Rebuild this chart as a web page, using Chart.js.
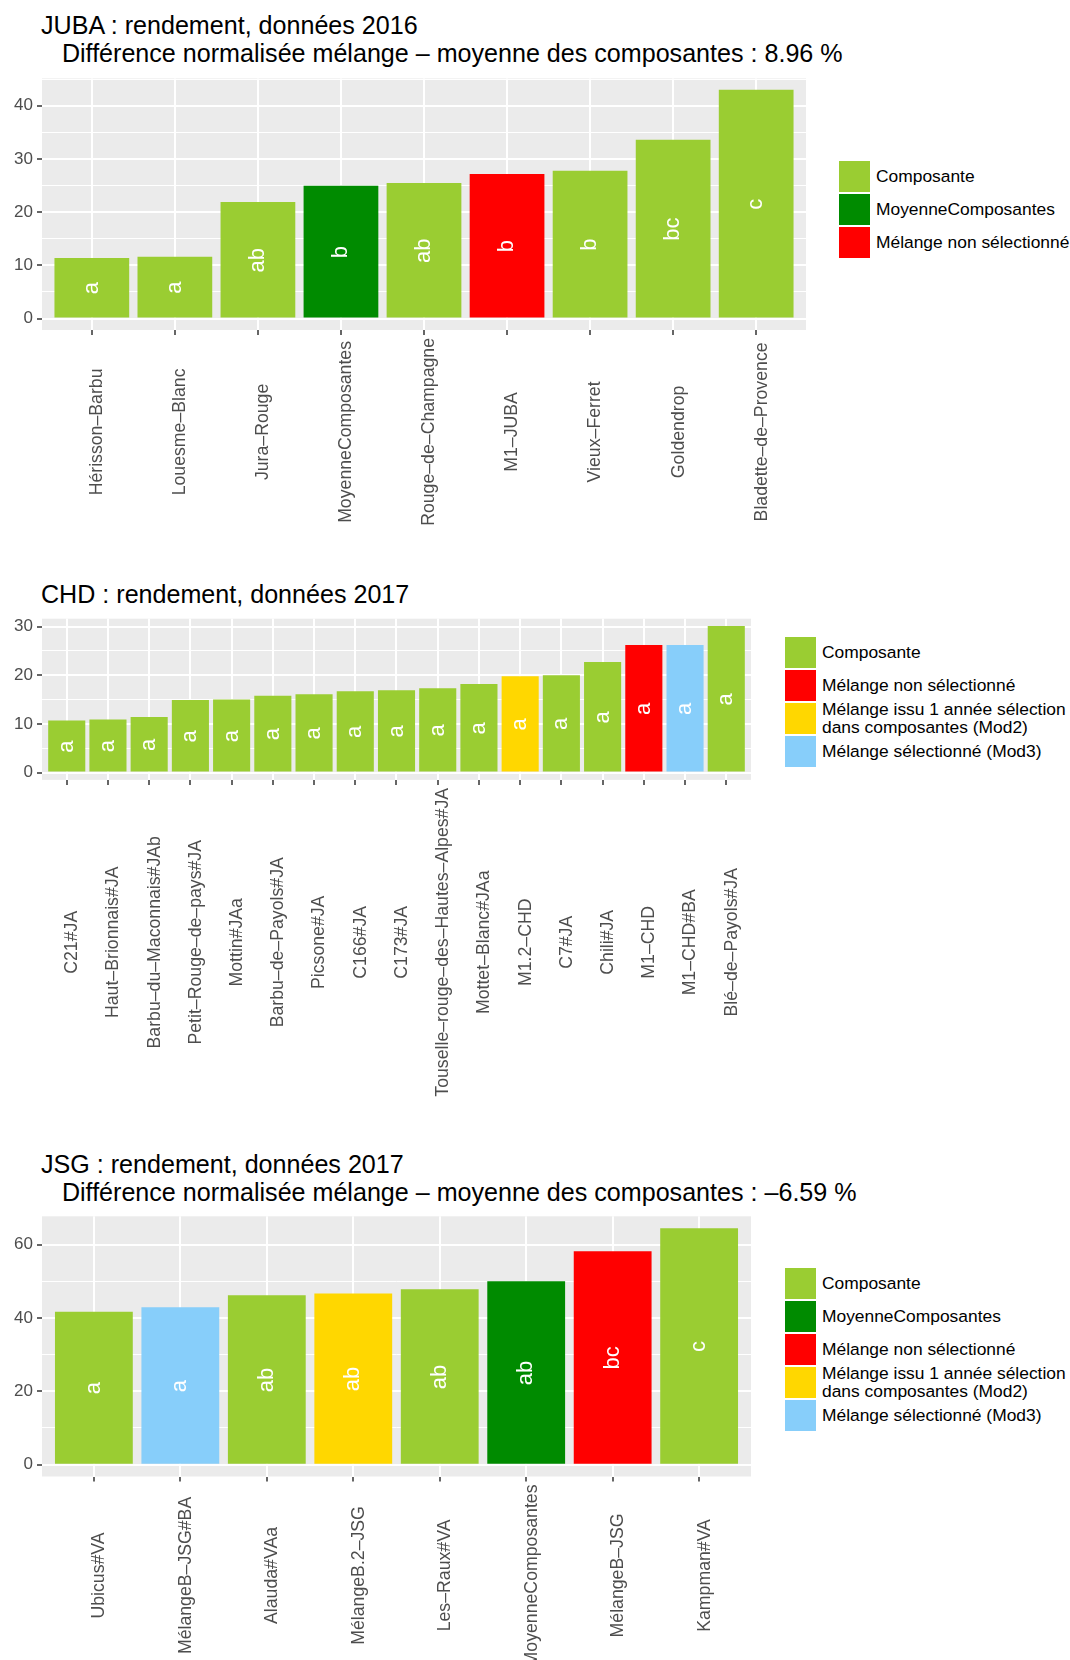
<!DOCTYPE html>
<html>
<head>
<meta charset="utf-8">
<script src="https://cdn.jsdelivr.net/npm/chart.js@4.4.1/dist/chart.umd.min.js"></script>
<style>
  body { margin: 0; background: #fff; width: 1070px; height: 1660px; position: relative; overflow: hidden;
         font-family: "Liberation Sans", Arial, sans-serif; }
  .boite { position: absolute; left: 0; }
  .titre { position: absolute; left: 41px; font-size: 25.1px; line-height: 28px; white-space: pre; color: #000; }
  .legende { position: absolute; font-size: 17.4px; color: #000; width: 300px; }
  .legende .ligne { display: flex; align-items: center; height: 31px; margin-bottom: 2px; }
  .legende .cle { width: 31px; height: 31px; margin-right: 6px; flex: none; }
  .legende .txt { line-height: 17.5px; white-space: pre; }
</style>
</head>
<body>

<div class="titre" style="top:11px">JUBA : rendement, données 2016
   Différence normalisée mélange – moyenne des composantes : 8.96 %</div>
<div class="boite" style="top:0px"><canvas id="juba" width="830" height="540"></canvas></div>
<div class="legende" id="leg_juba" style="left:839px; top:161px"></div>

<div class="titre" style="top:579.5px">CHD : rendement, données 2017</div>
<div class="boite" style="top:560px"><canvas id="chd" width="770" height="540"></canvas></div>
<div class="legende" id="leg_chd" style="left:785px; top:637px"></div>

<div class="titre" style="top:1149.5px">JSG : rendement, données 2017
   Différence normalisée mélange – moyenne des composantes : –6.59 %</div>
<div class="boite" style="top:1130px"><canvas id="jsg" width="770" height="530"></canvas></div>
<div class="legende" id="leg_jsg" style="left:785px; top:1268px"></div>

<script>
// groupes (legende)
const COMP = 'Composante'
const MOY = 'MoyenneComposantes'
const NONSEL = 'Mélange non sélectionné'
const MOD2 = 'Mélange issu 1 année sélection\ndans composantes (Mod2)'
const MOD3 = 'Mélange sélectionné (Mod3)'

const couleurs = {}
couleurs[COMP] = '#9ACD32'
couleurs[MOY] = '#008B00'
couleurs[NONSEL] = '#FF0000'
couleurs[MOD2] = '#FFD700'
couleurs[MOD3] = '#87CEFA'

// JUBA 2016
const jubaNoms = ['Hérisson–Barbu', 'Louesme–Blanc', 'Jura–Rouge', 'MoyenneComposantes', 'Rouge–de–Champagne',
                  'M1–JUBA', 'Vieux–Ferret', 'Goldendrop', 'Bladette–de–Provence']
const jubaRendement = [11.4, 11.6, 21.9, 24.95, 25.5, 27.2, 27.8, 33.6, 43.0]
const jubaGroupes = [COMP, COMP, COMP, MOY, COMP, NONSEL, COMP, COMP, COMP]
const jubaLettres = ['a', 'a', 'ab', 'b', 'ab', 'b', 'b', 'bc', 'c']
const jubaLegende = [COMP, MOY, NONSEL]
const jubaTicks = [0, 10, 20, 30, 40]
const jubaMineurs = [5, 15, 25, 35, 45]

// CHD 2017
const chdNoms = ['C21#JA', 'Haut–Brionnais#JA', 'Barbu–du–Maconnais#JAb', 'Petit–Rouge–de–pays#JA', 'Mottin#JAa',
                 'Barbu–de–Payols#JA', 'Picsone#JA', 'C166#JA', 'C173#JA', 'Touselle–rouge–des–Hautes–Alpes#JA',
                 'Mottet–Blanc#JAa', 'M1.2–CHD', 'C7#JA', 'Chili#JA', 'M1–CHD', 'M1–CHD#BA', 'Blé–de–Payols#JA']
const chdRendement = [10.7, 10.9, 11.4, 14.9, 15.0, 15.8, 16.1, 16.7, 16.9, 17.3, 18.2, 19.8, 20.0, 22.7, 26.2, 26.2, 30.1]
const chdGroupes = [COMP, COMP, COMP, COMP, COMP, COMP, COMP, COMP, COMP, COMP, COMP, MOD2, COMP, COMP, NONSEL, MOD3, COMP]
const chdLettres = ['a', 'a', 'a', 'a', 'a', 'a', 'a', 'a', 'a', 'a', 'a', 'a', 'a', 'a', 'a', 'a', 'a']
const chdLegende = [COMP, NONSEL, MOD2, MOD3]
const chdTicks = [0, 10, 20, 30]
const chdMineurs = [5, 15, 25]

// JSG 2017
const jsgNoms = ['Ubicus#VA', 'MélangeB–JSG#BA', 'Alauda#VAa', 'MélangeB.2–JSG', 'Les–Raux#VA',
                 'MoyenneComposantes', 'MélangeB–JSG', 'Kampman#VA']
const jsgRendement = [41.7, 42.9, 46.2, 46.7, 47.8, 50.0, 58.2, 64.5]
const jsgGroupes = [COMP, MOD3, COMP, MOD2, COMP, MOY, NONSEL, COMP]
const jsgLettres = ['a', 'a', 'ab', 'ab', 'ab', 'ab', 'bc', 'c']
const jsgLegende = [COMP, MOY, NONSEL, MOD2, MOD3]
const jsgTicks = [0, 20, 40, 60]
const jsgMineurs = [10, 30, 50]

const police = '"Liberation Sans", Arial, sans-serif'
Chart.defaults.font.family = police

// fond gris du panneau
const fond = {
  id: 'fond',
  beforeDraw(chart) {
    const a = chart.chartArea
    chart.ctx.save()
    chart.ctx.fillStyle = '#EBEBEB'
    chart.ctx.fillRect(a.left, a.top, a.right - a.left, a.bottom - a.top)
    chart.ctx.restore()
  }
}

// lettres dans les barres + noms verticaux centres
function textes(noms, lettres) {
  return {
    id: 'textes',
    afterDatasetsDraw(chart) {
      const ctx = chart.ctx, xs = chart.scales.x, ys = chart.scales.y, a = chart.chartArea
      ctx.save()
      ctx.textAlign = 'center'
      ctx.textBaseline = 'middle'
      ctx.fillStyle = '#fff'
      ctx.font = '22px ' + police
      chart.data.datasets[0].data.forEach((d, i) => {
        ctx.save()
        ctx.translate(xs.getPixelForValue(d.x), ys.getPixelForValue(d.y / 2))
        ctx.rotate(-Math.PI / 2)
        ctx.fillText(lettres[i], 0, 0)
        ctx.restore()
      })
      ctx.fillStyle = '#4D4D4D'
      ctx.font = '17.7px ' + police
      const maxW = Math.max(...noms.map(n => ctx.measureText(n).width))
      const cy = a.bottom + 5 + 3 + maxW / 2
      noms.forEach((n, i) => {
        ctx.save()
        // vjust = 1 : texte decale a droite du tick
        ctx.translate(xs.getPixelForValue(i) + 5.5, cy)
        ctx.rotate(-Math.PI / 2)
        ctx.fillText(n, 0, 0)
        ctx.restore()
      })
      ctx.restore()
    }
  }
}

function dessine(id, noms, valeurs, groupes, lettres, ticks, mineurs, yMin, yMax, panneau) {
  const canvas = document.getElementById(id)
  const W = canvas.width, H = canvas.height
  const tous = ticks.concat(mineurs).sort((p, q) => p - q)
  const config = {
    type: 'bar',
    data: {
      datasets: [{
        data: noms.map((n, i) => ({x: i, y: valeurs[i]})),
        backgroundColor: groupes.map(g => couleurs[g]),
        borderWidth: 0,
        barPercentage: 0.9,
        categoryPercentage: 1
      }]
    },
    options: {
      responsive: false,
      animation: false,
      layout: {padding: {left: 0, top: panneau.top, right: W - panneau.right, bottom: 0}},
      plugins: {legend: {display: false}, tooltip: {enabled: false}},
      scales: {
        x: {
          type: 'linear',
          min: -0.6,
          max: noms.length - 0.4,
          offset: false,
          afterBuildTicks: s => { s.ticks = noms.map((n, i) => ({value: i})) },
          afterFit: s => { s.height = H - panneau.bottom },
          ticks: {display: false, autoSkip: false},
          grid: {offset: false, color: '#fff', lineWidth: 2, tickColor: '#333', tickLength: 5, tickWidth: 1.5},
          border: {display: false}
        },
        y: {
          min: yMin,
          max: yMax,
          afterBuildTicks: s => { s.ticks = tous.map(v => ({value: v})) },
          afterFit: s => { s.width = 42 },
          ticks: {
            color: '#4D4D4D', font: {size: 17}, padding: 4, autoSkip: false,
            callback: v => ticks.includes(v) ? v : ''
          },
          grid: {
            color: '#fff',
            lineWidth: c => ticks.includes(c.tick.value) ? 2 : 1,
            tickColor: c => ticks.includes(c.tick.value) ? '#333' : 'rgba(0,0,0,0)',
            tickLength: 5, tickWidth: 1.5
          },
          border: {display: false}
        }
      }
    },
    plugins: [fond, textes(noms, lettres)]
  }
  new Chart(canvas, config)
}

function legende(id, entrees) {
  const el = document.getElementById(id)
  entrees.forEach(g => {
    const row = document.createElement('div')
    row.className = 'ligne'
    row.innerHTML = '<div class="cle" style="background:' + couleurs[g] + '"></div><div class="txt"></div>'
    row.querySelector('.txt').textContent = g
    el.appendChild(row)
  })
}

dessine('juba', jubaNoms, jubaRendement, jubaGroupes, jubaLettres, jubaTicks, jubaMineurs, -2.15, 45.15,
        {top: 78.4, bottom: 330, right: 806})
dessine('chd', chdNoms, chdRendement, chdGroupes, chdLettres, chdTicks, chdMineurs, -1.505, 31.605,
        {top: 58.7, bottom: 219.9, right: 751})
dessine('jsg', jsgNoms, jsgRendement, jsgGroupes, jsgLettres, jsgTicks, jsgMineurs, -3.225, 67.725,
        {top: 86.3, bottom: 346.5, right: 751})

legende('leg_juba', jubaLegende)
legende('leg_chd', chdLegende)
legende('leg_jsg', jsgLegende)
</script>
</body>
</html>
